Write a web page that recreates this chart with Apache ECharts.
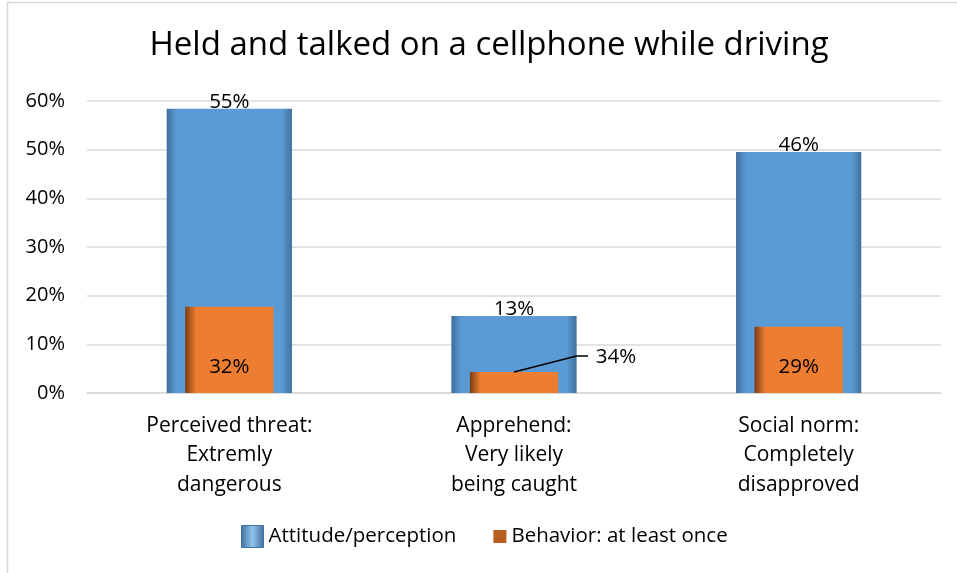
<!DOCTYPE html>
<html><head><meta charset="utf-8">
<script src="https://cdn.jsdelivr.net/npm/echarts@6/dist/echarts.min.js"></script>
<style>html,body{margin:0;padding:0;background:#fff}#c{width:957px;height:573px}</style>
</head><body><div id="c"></div>
<script>
const titleText = 'Held and talked on a cellphone while driving';
const categories = ['Perceived threat:\nExtremly\ndangerous', 'Apprehend:\nVery likely\nbeing caught', 'Social norm:\nCompletely\ndisapproved'];
const seriesNames = ['Attitude/perception', 'Behavior: at least once'];
// bar heights as drawn (percent)
const attitudeValues = [58.4, 15.8, 49.5];
const behaviorValues = [17.7, 4.3, 13.6];
// data labels as printed on the chart
const attitudeLabels = ['55%', '13%', '46%'];
const behaviorLabels = ['32%', '34%', '29%'];
const yTicks = [0, 10, 20, 30, 40, 50, 60];

const FONT = 'Open Sans';
const chart = echarts.init(document.getElementById('c'));
const blueGrad = new echarts.graphic.LinearGradient(0, 0, 1, 0, [
  {offset: 0, color: '#3d6d9c'}, {offset: 0.08, color: '#5b9bd5'},
  {offset: 0.92, color: '#5b9bd5'}, {offset: 1, color: '#41719c'}]);
const orangeGrad = new echarts.graphic.LinearGradient(0, 0, 1, 0, [
  {offset: 0, color: '#7a3c10'}, {offset: 0.12, color: '#ed7d31'},
  {offset: 1, color: '#ed7d31'}]);
const legendBlue = new echarts.graphic.LinearGradient(0, 0, 1, 0, [
  {offset: 0, color: '#41719c'}, {offset: 0.5, color: '#8fc3ee'}, {offset: 1, color: '#41719c'}]);

// leader line for the moved "34%" label: from the top of bar 2 to beside the label
const leaderIdx = 1;
const leaderPath = [[leaderIdx, behaviorValues[leaderIdx]], [leaderIdx + 0.22, 7.6], [leaderIdx + 0.26, 7.6]];

const option = {
  backgroundColor: '#fff',
  animation: false,
  graphic: [{type: 'rect', shape: {x: 7.5, y: 2.5, width: 1000, height: 1000},
    style: {fill: 'none', stroke: '#d9d9d9', lineWidth: 1.5}, silent: true}],
  title: {text: titleText, left: 484, textAlign: 'center', top: 24,
    textStyle: {fontFamily: FONT, fontSize: 33, fontWeight: 'normal', color: '#000'}},
  legend: {bottom: 20, left: 236, itemGap: 28, itemWidth: 22, itemHeight: 22,
    textStyle: {fontFamily: FONT, fontSize: 20.5, color: '#000'},
    data: [{name: seriesNames[0], icon: 'rect', itemStyle: {color: legendBlue, borderColor: '#41719c', borderWidth: 1}},
           {name: seriesNames[1], icon: 'path://M0,0M22,22M9,4.5h13v13h-13z', itemStyle: {color: '#b85d1f'}}]},
  grid: {left: 87, right: 16, top: 101, bottom: 180, containLabel: false},
  xAxis: [
    {type: 'category', data: categories, axisTick: {show: false},
     axisLine: {lineStyle: {color: '#d9d9d9', width: 1.5}},
     axisLabel: {fontFamily: FONT, fontSize: 21, color: '#000', lineHeight: 29.5, margin: 18, interval: 0}},
    {type: 'category', data: categories, show: false},
    {type: 'value', min: -0.5, max: categories.length - 0.5, show: false, splitLine: {show: false}}
  ],
  yAxis: {type: 'value', min: 0, max: 60, interval: 10,
    axisLine: {show: false}, axisTick: {show: false},
    splitLine: {lineStyle: {color: '#d9d9d9', width: 1.5}},
    axisLabel: {fontFamily: FONT, fontSize: 20, color: '#000', margin: 22,
      formatter: v => yTicks.includes(v) ? v + '%' : ''}},
  series: [
    {name: seriesNames[0], type: 'bar', xAxisIndex: 0, barWidth: '44%', z: 2,
     data: attitudeValues,
     itemStyle: {color: blueGrad},
     label: {show: true, position: 'top', distance: -4, fontFamily: FONT, fontSize: 20.5, color: '#000',
       formatter: p => attitudeLabels[p.dataIndex]}},
    {name: seriesNames[1], type: 'bar', xAxisIndex: 1, barWidth: '31%', z: 3,
     data: behaviorValues.map((v, i) => i === leaderIdx ? {value: v, label: {position: 'top', distance: 0}} : v),
     itemStyle: {color: orangeGrad},
     label: {show: true, position: 'insideBottom', distance: 15, fontFamily: FONT, fontSize: 20.5, color: '#000',
       formatter: p => behaviorLabels[p.dataIndex]},
     labelLayout: p => p.dataIndex === leaderIdx ? {dx: 102, dy: -4} : {}},
    {name: 'leader', type: 'line', xAxisIndex: 2, data: leaderPath, z: 4, silent: true,
     symbol: 'none', lineStyle: {color: '#000', width: 1.5}, tooltip: {show: false}}
  ]
};
chart.setOption(option);
</script></body></html>
